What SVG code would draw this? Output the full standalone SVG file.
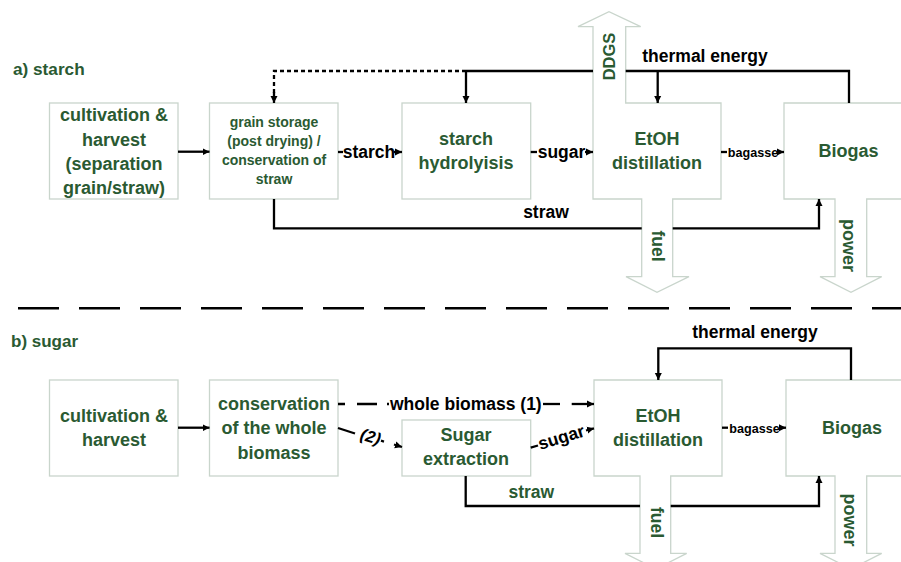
<svg xmlns="http://www.w3.org/2000/svg" width="901" height="562" viewBox="0 0 901 562">
<defs>
<marker id="ah" markerUnits="userSpaceOnUse" markerWidth="8" markerHeight="8" refX="7" refY="4" orient="auto">
<path d="M0,0.5 L7,4 L0,7.5 Z" fill="#000"/>
</marker>
<style>
.box{fill:#fff;stroke:#c9d5cc;stroke-width:1.3}
.nt{font-family:"Liberation Sans",Arial,sans-serif;font-weight:bold;font-size:18px;fill:#2a5a32;text-anchor:middle}
.sm{font-size:14px}
.lb{font-family:"Liberation Sans",Arial,sans-serif;font-weight:bold;font-size:17.5px;fill:#000;text-anchor:middle}
.gl{fill:#2a5a32}
.ln{fill:none;stroke:#000;stroke-width:2.3}
.ar{marker-end:url(#ah)}
</style>
</defs>
<rect width="901" height="562" fill="#fff"/>

<text class="nt" x="13" y="75" style="text-anchor:start;font-size:17.2px">a) starch</text>
<text class="nt" x="11" y="347" style="text-anchor:start;font-size:17px">b) sugar</text>

<!-- a) starch nodes -->
<g id="a-cultivation">
<rect class="box" x="49.5" y="103" width="128.5" height="96"/>
<text class="nt" x="114" y="121">cultivation &amp;</text>
<text class="nt" x="114" y="145.5">harvest</text>
<text class="nt" x="114" y="170">(separation</text>
<text class="nt" x="114" y="194">grain/straw)</text>
</g>
<g id="a-storage">
<rect class="box" x="209.5" y="103" width="128.5" height="96"/>
<text class="nt sm" x="274" y="127">grain storage</text>
<text class="nt sm" x="274" y="146">(post drying) /</text>
<text class="nt sm" x="274" y="164.5">conservation of</text>
<text class="nt sm" x="274" y="183.5">straw</text>
</g>
<g id="a-hydrolysis">
<rect class="box" x="402" y="103" width="128.7" height="96"/>
<text class="nt" x="466" y="145">starch</text>
<text class="nt" x="466" y="169">hydrolyisis</text>
</g>
<g id="a-etoh">
<path class="box" d="M593,26.7 L578,26.7 L609,11.7 L640.7,26.7 L625.7,26.7 L625.7,103 L721,103 L721,199 L672.7,199 L672.7,276.7 L689,276.7 L657,292.3 L626,276.7 L641.7,276.7 L641.7,199 L593,199 Z"/>
<text class="nt" x="657" y="145">EtOH</text>
<text class="nt" x="657" y="169">distillation</text>
<text class="nt" x="0" y="0" style="font-size:16.5px" transform="translate(615,56.5) rotate(-90)">DDGS</text>
<text class="nt" x="0" y="0" style="font-size:17.5px" transform="translate(652,246) rotate(90)">fuel</text>
</g>
<g id="a-biogas">
<path class="box" d="M784,103 L916,103 L916,199 L866.7,199 L866.7,276.7 L881.7,276.7 L851,292.3 L820,276.7 L835,276.7 L835,199 L784,199 Z"/>
<text class="nt" x="848.5" y="157">Biogas</text>
<text class="nt" x="0" y="0" style="font-size:18px" transform="translate(843,245.5) rotate(90)">power</text>
</g>

<!-- b) sugar nodes -->
<g id="b-cultivation">
<rect class="box" x="49.5" y="380" width="128.5" height="96"/>
<text class="nt" x="114" y="421.5">cultivation &amp;</text>
<text class="nt" x="114" y="445.5">harvest</text>
</g>
<g id="b-conservation">
<rect class="box" x="209.5" y="380" width="128.5" height="96"/>
<text class="nt" x="274" y="409.5">conservation</text>
<text class="nt" x="274" y="434">of the whole</text>
<text class="nt" x="274" y="458.5">biomass</text>
</g>
<g id="b-extraction">
<rect class="box" x="402" y="420" width="128.7" height="56"/>
<text class="nt" x="466" y="441">Sugar</text>
<text class="nt" x="466" y="465">extraction</text>
</g>
<g id="b-etoh">
<path class="box" d="M594,380 L722,380 L722,476 L670.7,476 L670.7,553.3 L686.7,553.3 L656,569 L625,553.3 L640,553.3 L640,476 L594,476 Z"/>
<text class="nt" x="658" y="421.5">EtOH</text>
<text class="nt" x="658" y="445.5">distillation</text>
<text class="nt" x="0" y="0" style="font-size:17.5px" transform="translate(650.5,522.5) rotate(90)">fuel</text>
</g>
<g id="b-biogas">
<path class="box" d="M786,380 L916,380 L916,476 L866.7,476 L866.7,553.3 L881.7,553.3 L851,569 L820,553.3 L835,553.3 L835,476 L786,476 Z"/>
<text class="nt" x="852" y="434">Biogas</text>
<text class="nt" x="0" y="0" style="font-size:18px" transform="translate(844,520) rotate(90)">power</text>
</g>

<!-- connectors -->
<g id="connectors">
<!-- separator -->
<path d="M18,308.3 L901,308.3" fill="none" stroke="#000" stroke-width="2.5" stroke-dasharray="41,20"/>

<!-- a) -->
<path class="ln ar" d="M178,151.7 L209.5,151.7"/>
<path class="ln" d="M338,152 L343,152"/>
<text class="lb" x="369" y="157.5">starch</text>
<path class="ln ar" d="M394,152 L402,152"/>
<path class="ln" d="M530.7,152 L537,152"/>
<text class="lb" x="561.5" y="157.5">sugar</text>
<path class="ln ar" d="M585,152 L593,152"/>
<path class="ln" d="M721,152 L727,152" stroke-width="2"/>
<text class="lb" x="753" y="156.5" style="font-size:12.6px">bagasse</text>
<path class="ln ar" d="M778,152 L784,152" stroke-width="2"/>

<path class="ln" d="M274,100 L274,71 L462,71" stroke-width="2.2" stroke-dasharray="4,3"/>
<path class="ln ar" d="M274,92 L274,103" stroke-width="0.1"/>
<path class="ln" d="M462,71 L593,71"/>
<path class="ln" d="M625.7,71 L849,71 L849,103"/>
<path class="ln ar" d="M466,71 L466,103"/>
<path class="ln ar" d="M657.7,71 L657.7,103"/>
<text class="lb" x="705" y="61.5">thermal energy</text>

<path class="ln" d="M274,199 L274,228.3 L641.7,228.3"/>
<path class="ln ar" d="M672.7,228.3 L819,228.3 L819,199"/>
<text class="lb" x="546" y="217.5">straw</text>

<!-- b) -->
<path class="ln ar" d="M178,427.7 L209.5,427.7"/>
<path class="ln" d="M338,404 L345,404 M357,404 L377,404 M387,404 L389,404"/>
<text class="lb" x="390" y="409.5" style="text-anchor:start">whole biomass (1)</text>
<path class="ln" d="M543,404 L560,404"/>
<path class="ln ar" d="M571.7,404 L594,404"/>

<path class="ln" d="M338,428 L355,433.5"/>
<text class="lb" x="0" y="0" style="font-style:italic;font-size:16.5px" transform="translate(369,442) rotate(17)">(2)</text>
<path class="ln" d="M381,440.7 L384,441.6"/>
<path class="ln ar" d="M394,444.5 L402,447"/>

<path class="ln" d="M530.7,447.7 L538,445.5"/>
<text class="lb" x="0" y="0" transform="translate(563,443) rotate(-17)">sugar</text>
<path class="ln ar" d="M586,430.5 L594,428.3"/>

<path class="ln" d="M722,427.7 L728,427.7" stroke-width="2"/>
<text class="lb" x="754.5" y="432.5" style="font-size:12.6px">bagasse</text>
<path class="ln ar" d="M779,427.7 L786,427.7" stroke-width="2"/>

<path class="ln ar" d="M851,380 L851,348.3 L658.3,348.3 L658.3,380"/>
<text class="lb" x="755" y="337.5">thermal energy</text>

<path class="ln" d="M465.7,476 L465.7,506 L640,506"/>
<path class="ln ar" d="M670.7,506 L819,506 L819,476"/>
<text class="lb gl" x="531.3" y="498.3">straw</text>
</g>
</svg>
